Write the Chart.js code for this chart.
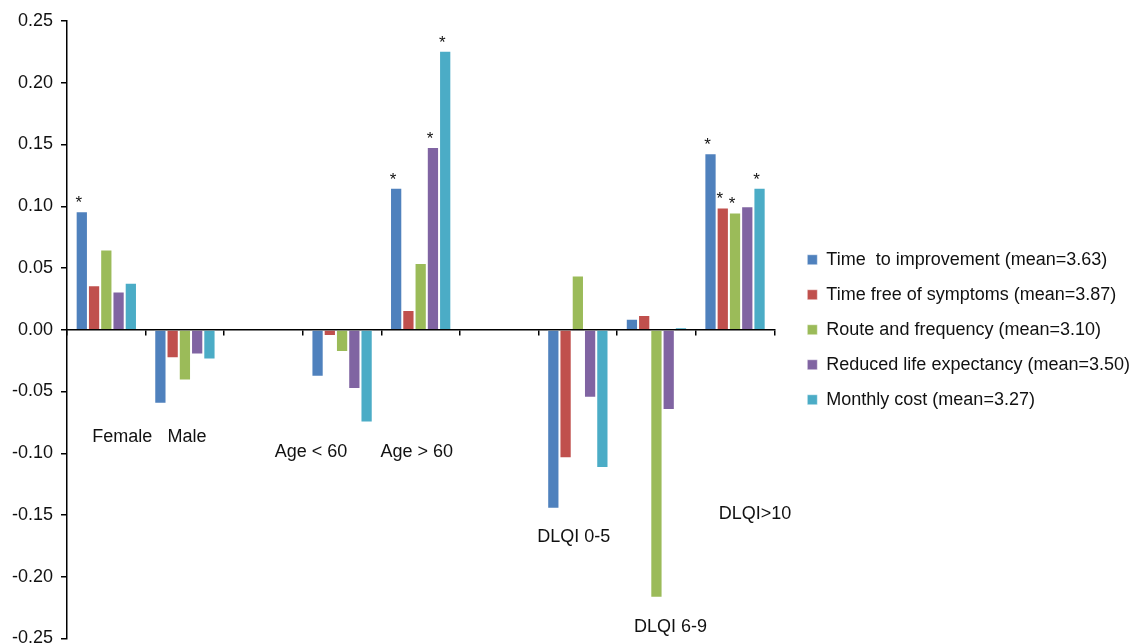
<!DOCTYPE html>
<html>
<head>
<meta charset="utf-8">
<script src="https://cdn.jsdelivr.net/npm/chart.js@4.4.0/dist/chart.umd.min.js"></script>
<style>
  html, body { margin: 0; padding: 0; background: #fff; overflow: hidden; }
</style>
</head>
<body>
<canvas id="chart" width="1140" height="652"></canvas>
<script>
// groups on the x axis (empty ones are the gaps between the three blocks)
const categories = ["Female", "Male", "", "Age < 60", "Age > 60", "", "DLQI 0-5", "DLQI 6-9", "DLQI>10"];
const seriesNames = [
  "Time  to improvement (mean=3.63)",
  "Time free of symptoms (mean=3.87)",
  "Route and frequency (mean=3.10)",
  "Reduced life expectancy (mean=3.50)",
  "Monthly cost (mean=3.27)"
];
const timeToImprovement     = [0.096, -0.060, null, -0.038, 0.115, null, -0.145, 0.009, 0.143];
const timeFreeOfSymptoms    = [0.036, -0.023, null, -0.005, 0.016, null, -0.104, 0.012, 0.099];
const routeAndFrequency     = [0.065, -0.041, null, -0.018, 0.054, null, 0.044, -0.217, 0.095];
const reducedLifeExpectancy = [0.031, -0.020, null, -0.048, 0.148, null, -0.055, -0.065, 0.100];
const monthlyCost           = [0.038, -0.024, null, -0.075, 0.226, null, -0.112, 0.002, 0.115];
// indexes of the groups where a bar is marked significant (*)
const starsTime   = [0, 4, 8];
const starsFree   = [8];
const starsRoute  = [8];
const starsLife   = [4];
const starsCost   = [4, 8];
const yTicks = [-0.25, -0.20, -0.15, -0.10, -0.05, 0, 0.05, 0.10, 0.15, 0.20, 0.25];

const colors = ["#4f81bd", "#c0504d", "#9bbb59", "#8064a2", "#4bacc6"];
const allValues = [timeToImprovement, timeFreeOfSymptoms, routeAndFrequency, reducedLifeExpectancy, monthlyCost];
const allStars = [starsTime, starsFree, starsRoute, starsLife, starsCost];
const FONT = "'Liberation Sans', Arial, Helvetica, sans-serif";

// where the group names sit: offset from the group centre (px) and height in axis units
const labelSpots = [
  { dx: 16, v: -0.087 }, { dx: 2, v: -0.087 }, null,
  { dx: -31, v: -0.099 }, { dx: -4, v: -0.099 }, null,
  { dx: -4, v: -0.168 }, { dx: 14, v: -0.241 }, { dx: 20, v: -0.149 }
];

const groupLabels = {
  id: "groupLabels",
  afterDraw(chart) {
    const { ctx, scales: { x, y } } = chart;
    ctx.save();
    ctx.font = "18px " + FONT;
    ctx.fillStyle = "#111";
    ctx.textAlign = "center";
    ctx.textBaseline = "middle";
    categories.forEach((c, i) => {
      const spot = labelSpots[i];
      if (!c || !spot) return;
      ctx.fillText(c, x.getPixelForValue(i) + spot.dx, y.getPixelForValue(spot.v));
    });
    ctx.restore();
  }
};

const starMarks = {
  id: "starMarks",
  afterDatasetsDraw(chart) {
    const ctx = chart.ctx;
    ctx.save();
    ctx.font = "17px " + FONT;
    ctx.fillStyle = "#111";
    ctx.textAlign = "center";
    ctx.textBaseline = "alphabetic";
    allStars.forEach((list, d) => {
      const meta = chart.getDatasetMeta(d);
      list.forEach(i => {
        const bar = meta.data[i];
        if (bar) ctx.fillText("*", bar.x - 3, bar.y - 3);
      });
    });
    ctx.restore();
  }
};

new Chart(document.getElementById("chart"), {
  type: "bar",
  data: {
    labels: categories,
    datasets: allValues.map((vals, d) => ({
      label: seriesNames[d],
      data: vals,
      backgroundColor: colors[d],
      borderColor: "rgba(255,255,255,0.45)",
      borderWidth: 1,
      categoryPercentage: 0.78,
      barPercentage: 1
    }))
  },
  options: {
    responsive: false,
    animation: false,
    layout: { padding: { top: 21, bottom: 13.5, left: 4, right: 0 } },
    plugins: {
      tooltip: { enabled: false },
      legend: {
        position: "right",
        maxWidth: 400,
        labels: {
          boxWidth: 10,
          boxHeight: 10,
          padding: 17,
          color: "#111",
          font: { family: FONT, size: 18 }
        }
      }
    },
    scales: {
      x: {
        position: { y: 0 },
        ticks: { display: false },
        grid: { offset: true, drawOnChartArea: false, drawTicks: true, tickLength: 5, color: "#000", lineWidth: 1.5 },
        border: { display: true, color: "#000", width: 1.5 }
      },
      y: {
        min: -0.25,
        max: 0.25,
        afterBuildTicks: s => { s.ticks = yTicks.map(v => ({ value: v })); },
        ticks: {
          color: "#111",
          padding: 8,
          font: { family: FONT, size: 18, lineHeight: 0.2 },
          callback: v => (Math.abs(v) < 1e-9 ? 0 : v).toFixed(2)
        },
        grid: { drawOnChartArea: false, drawTicks: true, tickLength: 6, color: "#000", lineWidth: 1.5 },
        border: { display: true, color: "#000", width: 1.5 }
      },
      // empty strip between the plot and the legend
      gap: {
        type: "linear",
        position: "right",
        ticks: { display: false },
        grid: { display: false, drawTicks: false },
        border: { display: false },
        afterFit: s => { s.width = 16; }
      }
    }
  },
  plugins: [groupLabels, starMarks]
});
</script>
</body>
</html>
